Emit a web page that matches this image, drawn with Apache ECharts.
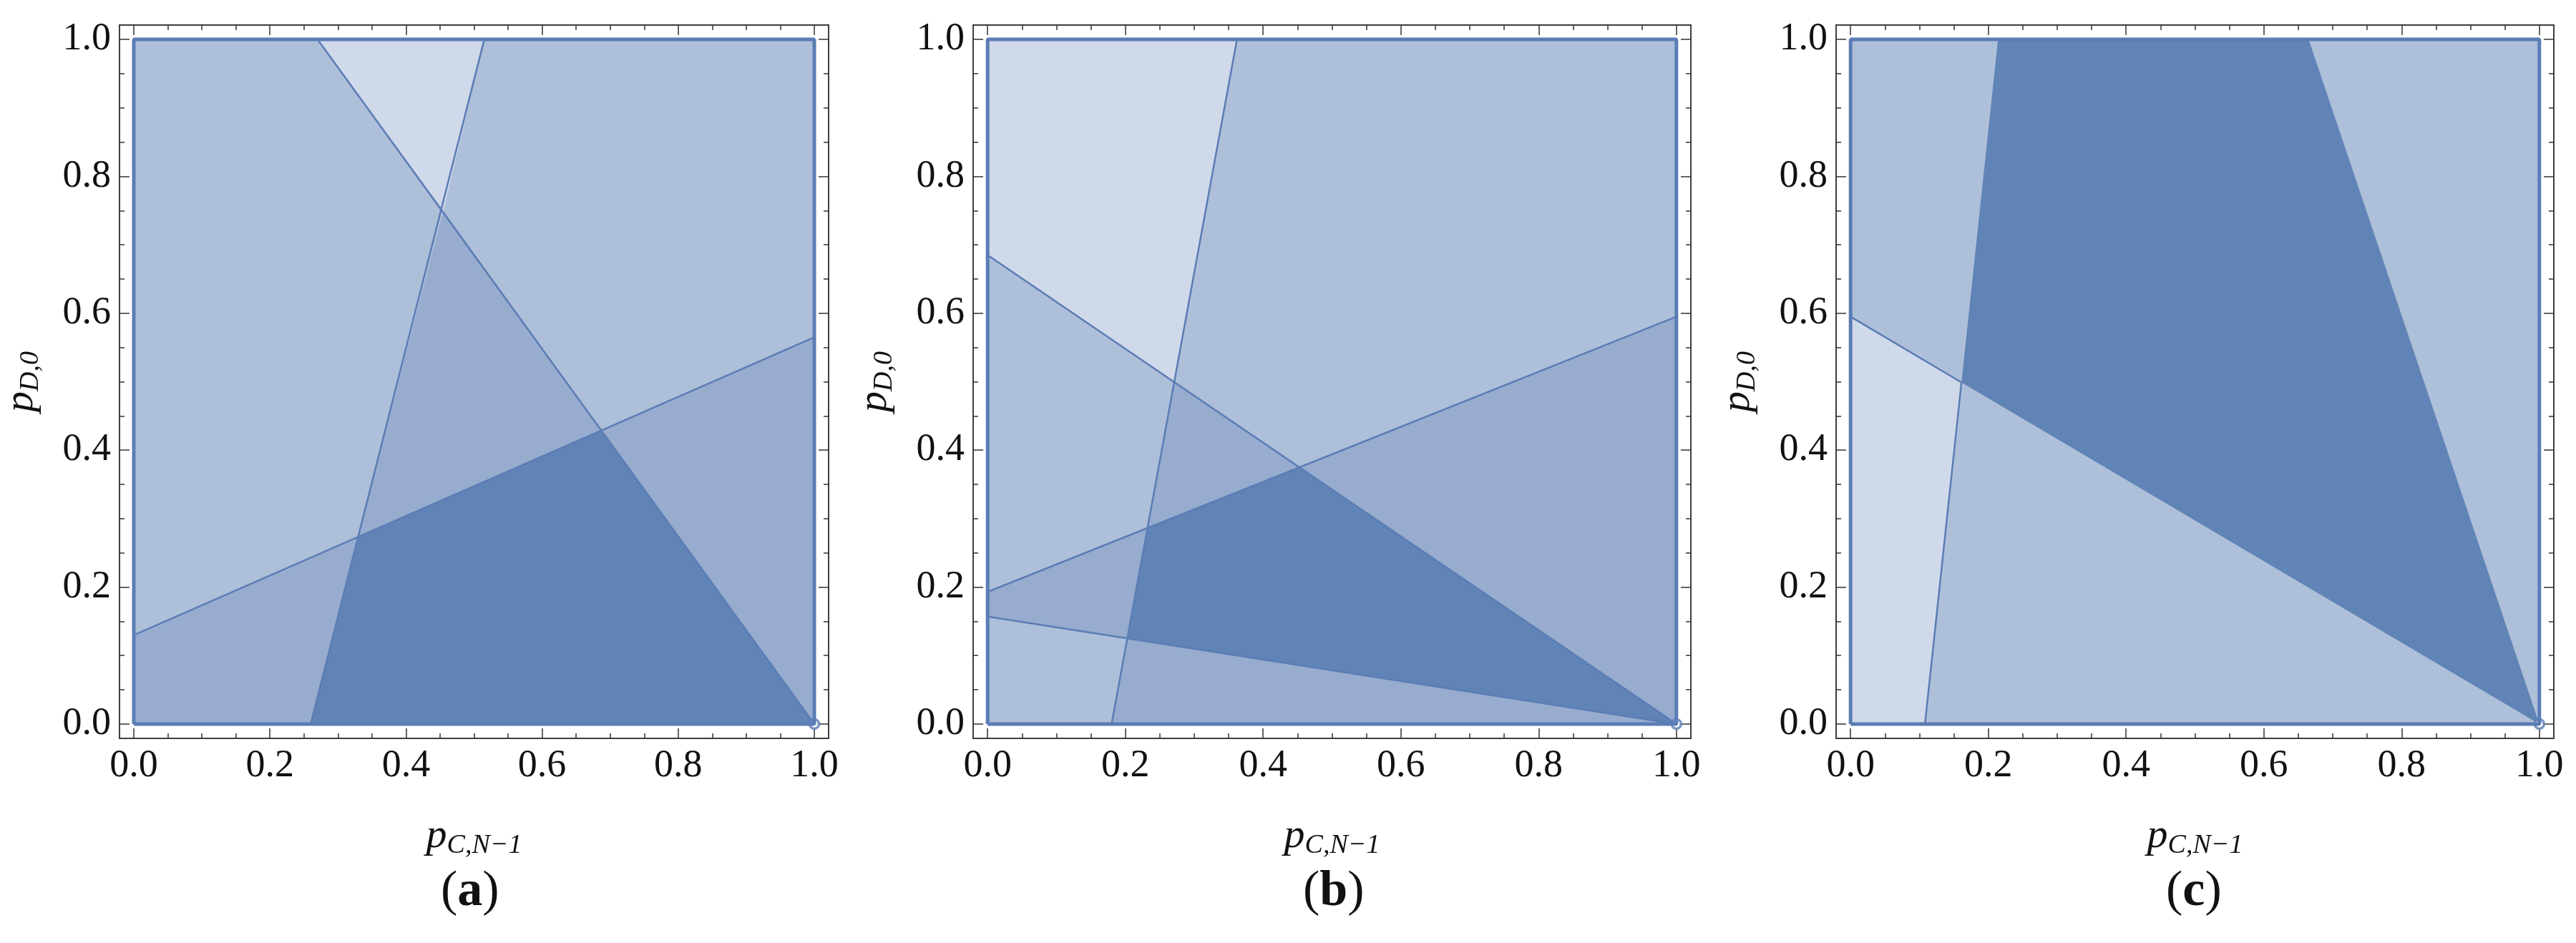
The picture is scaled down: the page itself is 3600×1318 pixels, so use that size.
<!DOCTYPE html>
<html><head><meta charset="utf-8">
<script src="https://cdn.jsdelivr.net/npm/echarts@6/dist/echarts.min.js"></script>
<style>html,body{margin:0;padding:0;background:#fff}#c{width:3600px;height:1318px}</style>
</head><body><div id="c"></div>
<script>
const majorTicks = [0, 0.2, 0.4, 0.6, 0.8, 1.0];
const minorTicks = [0.05,0.1,0.15,0.25,0.3,0.35,0.45,0.5,0.55,0.65,0.7,0.75,0.85,0.9,0.95];
const panelLabels = ['a', 'b', 'c'];
const COL = {light:'#D0D9EA', base:'#AEBFD9', mid:'#97ACCE', dark:'#6084B6'};
// regions per panel: [colorKey, polygon]
const regionsA = [
  ['base', [[0,0],[1,0],[1,1],[0,1]]],
  ['light', [[0.27,1],[0.515,1],[0.455,0.75]]],
  ['mid', [[0,0],[0,0.13],[0.33,0.273],[0.26,0]]],
  ['mid', [[0.33,0.273],[0.455,0.75],[0.687,0.429]]],
  ['mid', [[0.687,0.429],[1,0.565],[1,0]]],
  ['dark', [[0.26,0],[0.33,0.273],[0.687,0.429],[1,0]]]
];
const linesA = [
  [[0.27,1],[1,0]],
  [[0.26,0],[0.515,1]],
  [[0,0.13],[1,0.565]]
];
const regionsB = [
  ['base', [[0,0],[1,0],[1,1],[0,1]]],
  ['light', [[0,1],[0.362,1],[0.271,0.499],[0,0.685]]],
  ['mid', [[0,0.193],[0.232,0.286],[0.203,0.125],[0,0.157]]],
  ['mid', [[0.271,0.499],[0.453,0.375],[0.232,0.286]]],
  ['mid', [[0.453,0.375],[1,0.595],[1,0]]],
  ['mid', [[0.18,0],[0.203,0.125],[1,0]]],
  ['dark', [[0.232,0.286],[0.453,0.375],[1,0],[0.203,0.125]]]
];
const linesB = [
  [[0,0.685],[1,0]],
  [[0.18,0],[0.362,1]],
  [[0,0.193],[1,0.595]],
  [[0,0.157],[1,0]]
];
const regionsC = [
  ['base', [[0,0],[1,0],[1,1],[0,1]]],
  ['light', [[0,0.595],[0.161,0.499],[0.108,0],[0,0]]],
  ['dark', [[0.214,1],[0.665,1],[1,0],[0.161,0.499]]]
];
const linesC = [
  [[0,0.595],[0.161,0.499]],
  [[0.108,0],[0.161,0.499]]
];
const panels = [[regionsA,linesA],[regionsB,linesB],[regionsC,linesC]];
const gridLefts = [155, 1360, 2566];
const LINE = '#5B7DB5';
const F = 'Liberation Serif';

const grids=[], xAxes=[], yAxes=[], series=[], graphics=[];
panels.forEach((p, gi) => {
  grids.push({left: gridLefts[gi], top: 35, width: 1003, height: 997});
  const base = {min:-0.021, max:1.021, type:'value', gridIndex: gi, splitLine:{show:false},
    axisLine:{show:true, onZero:false, lineStyle:{color:'#333', width:1.5}}};
  const mk = (pos, ticks, len, label, name) => Object.assign({}, base, {
    position: pos,
    axisTick:{show:true, inside:true, length:len, customValues:ticks, lineStyle:{color:'#333',width:1.5}},
    axisLabel: label ? {show:true, customValues:majorTicks, formatter: v => v.toFixed(1), fontFamily:F, fontSize:54, color:'#111', margin:12} : {show:false}
  }, name || {});
  const xname = {name:'{p|p}{s|C,N\u22121}', nameLocation:'middle', nameGap:105,
    nameTextStyle:{rich:{p:{fontFamily:F, fontStyle:'italic', fontSize:58, color:'#111'}, s:{fontFamily:F, fontStyle:'italic', fontSize:38, color:'#111', padding:[26,0,0,0]}}}};
  const yname = {name:'{p|p}{s|D,0}', nameLocation:'middle', nameGap:105,
    nameTextStyle:{rich:{p:{fontFamily:F, fontStyle:'italic', fontSize:58, color:'#111'}, s:{fontFamily:F, fontStyle:'italic', fontSize:38, color:'#111', padding:[26,0,0,0]}}}};
  const xi = xAxes.length, yi = yAxes.length;
  xAxes.push(mk('bottom', majorTicks, 14, true, xname), mk('bottom', minorTicks, 7, false), mk('top', majorTicks, 14, false), mk('top', minorTicks, 7, false));
  yAxes.push(mk('left', majorTicks, 14, true, yname), mk('left', minorTicks, 7, false), mk('right', majorTicks, 14, false), mk('right', minorTicks, 7, false));
  const regs = p[0];
  series.push({type:'custom', xAxisIndex:xi, yAxisIndex:yi, data: regs.map((r,i)=>[i]), silent:true,
    renderItem: (params, api) => {
      const r = regs[params.dataIndex];
      return {type:'polygon', shape:{points: r[1].map(pt => api.coord(pt))}, style:{fill: COL[r[0]]}};
    }});
  p[1].forEach(l => series.push({type:'line', xAxisIndex:xi, yAxisIndex:yi, data:l, symbol:'none', silent:true,
    lineStyle:{color:LINE, width:2.5}}));
  series.push({type:'line', xAxisIndex:xi, yAxisIndex:yi, data:[[0,0],[1,0],[1,1],[0,1],[0,0]], symbol:'none', silent:true,
    lineStyle:{color:LINE, width:5}});
  series.push({type:'scatter', xAxisIndex:xi, yAxisIndex:yi, data:[[1,0]], symbolSize:13, silent:true,
    itemStyle:{color:'#fff', borderColor:LINE, borderWidth:3.5}});
  graphics.push({type:'text', left: gridLefts[gi] + 501 - 40, top: 1212, style:{
    text:'{b|(}{a|' + panelLabels[gi] + '}{b|)}', rich:{a:{fontFamily:F, fontWeight:'bold', fontSize:70, fill:'#111'}, b:{fontFamily:F, fontSize:70, fill:'#111'}}}});
});
const chart = echarts.init(document.getElementById('c'));
chart.setOption({animation:false, grid:grids, xAxis:xAxes, yAxis:yAxes, series, graphic:graphics});
</script></body></html>
